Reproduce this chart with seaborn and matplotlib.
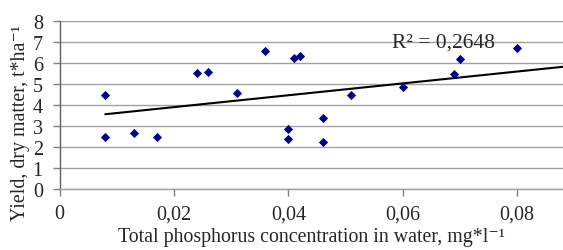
import numpy as np
import pandas as pd
import matplotlib
matplotlib.use("Agg")
import matplotlib.pyplot as plt
import seaborn as sns

phosphorus = [0.008, 0.008, 0.013, 0.017, 0.024, 0.026, 0.031, 0.036,
              0.040, 0.040, 0.041, 0.042, 0.046, 0.046, 0.051, 0.060,
              0.069, 0.070, 0.080]
yield_dm = [4.49, 2.47, 2.68, 2.48, 5.51, 5.59, 4.59, 6.59,
            2.86, 2.38, 6.22, 6.33, 3.38, 2.25, 4.46, 4.86,
            5.46, 6.17, 6.73]
trend_x = [0.008, 0.088]
trend_y = [3.56, 5.82]
x_ticks = [0, 0.02, 0.04, 0.06, 0.08]
x_tick_labels = ["0", "0,02", "0,04", "0,06", "0,08"]
y_ticks = [0, 1, 2, 3, 4, 5, 6, 7, 8]
r2_text = "R² = 0,2648"
x_max = 0.088

df = pd.DataFrame({"x": phosphorus, "y": yield_dm})
line_df = pd.DataFrame({"x": trend_x, "y": trend_y})

sns.set_theme(style="white")
plt.rcParams["font.family"] = ["Liberation Serif", "DejaVu Serif"]

fig = plt.figure(figsize=(5.63, 2.51), dpi=100)
ax = fig.add_axes([59.5 / 563, 1 - 190 / 251, 1 - 59.5 / 563, (190 - 22) / 251])

for v in y_ticks:
    ax.axhline(v, color="#a0a0a0", lw=1.0, zorder=0)

sns.scatterplot(data=df, x="x", y="y", ax=ax, marker="D", s=22,
                color="#00008b", edgecolor="#00008b", linewidth=0, zorder=3)
sns.lineplot(data=line_df, x="x", y="y", ax=ax, color="black", lw=1.5, zorder=2)

ax.set_xlim(0, x_max)
ax.set_ylim(0, 8)
ax.set_xticks(x_ticks)
ax.set_xticklabels(x_tick_labels)
ax.set_yticks(y_ticks)
ax.tick_params(axis="both", labelsize=14.5, length=5, width=1, color="#808080",
               direction="out", bottom=True, left=True)
ax.tick_params(axis="x", pad=6)
ax.tick_params(axis="y", pad=7)
for s in ["top", "right"]:
    ax.spines[s].set_visible(False)
ax.spines["left"].set_color("#606060")
ax.spines["bottom"].set_color("#a0a0a0")
ax.spines["left"].set_linewidth(1)
ax.spines["bottom"].set_linewidth(1)

ax.set_xlabel("Total phosphorus concentration in water, mg*l⁻¹", fontsize=14.3, labelpad=3)
ax.set_ylabel("Yield, dry matter, t*ha⁻¹", fontsize=14.3)
ax.yaxis.set_label_coords(-0.058, 0.4)

ax.text(0.0581, 6.8, r2_text, fontsize=15.5, ha="left", va="baseline", zorder=1)

fig.savefig("out.png", dpi=100)
